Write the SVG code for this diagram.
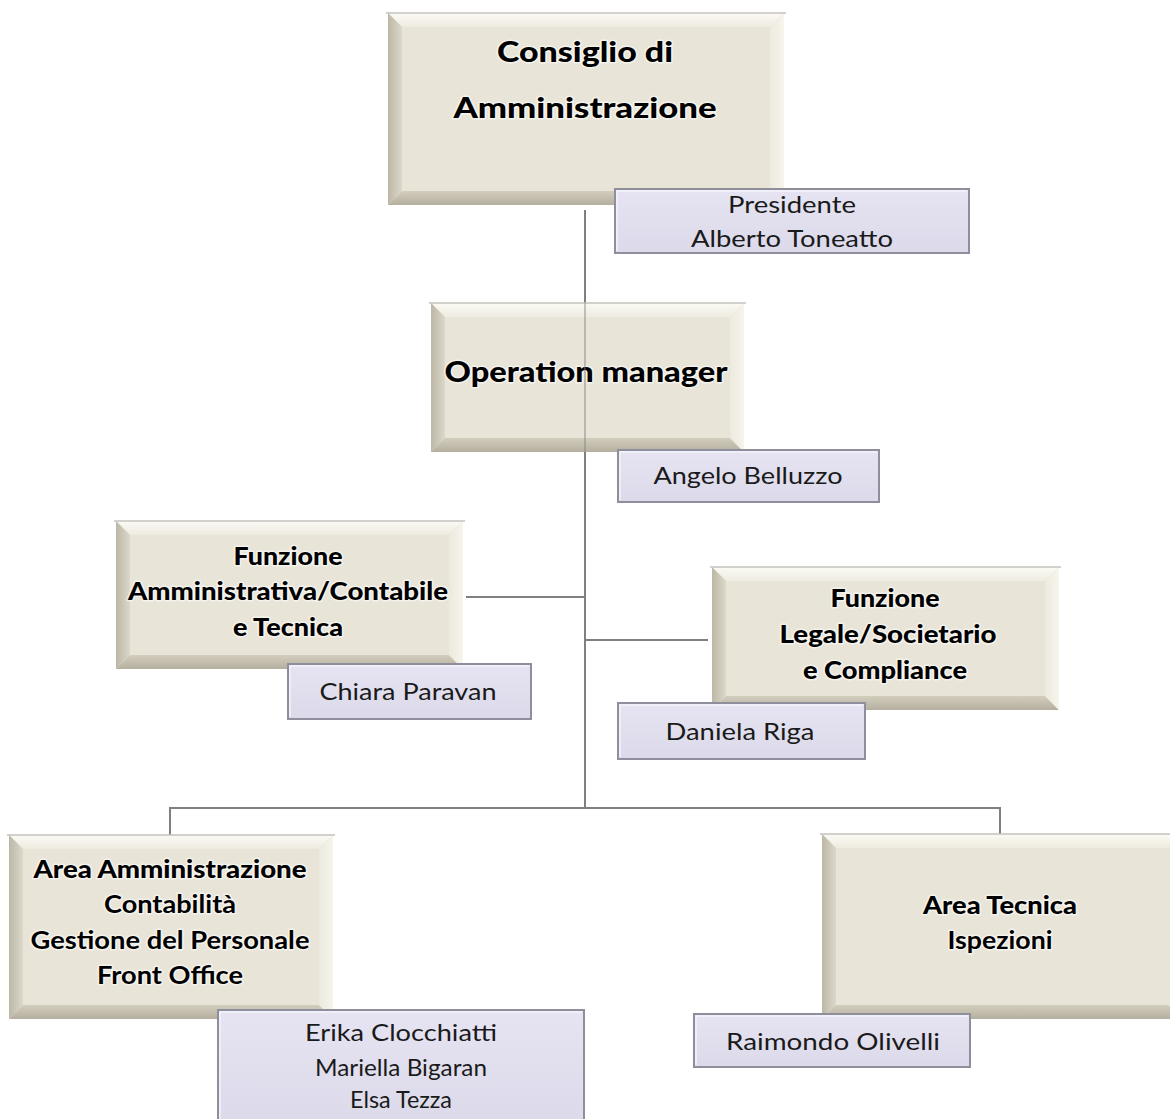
<svg xmlns="http://www.w3.org/2000/svg" width="1170" height="1119" viewBox="0 0 1170 1119">
<defs>
<linearGradient id="gl" x1="0" y1="0" x2="1" y2="0"><stop offset="0" stop-color="#bcb7a6"/><stop offset="1" stop-color="#dcd8ca"/></linearGradient>
<linearGradient id="gb" x1="0" y1="0" x2="0" y2="1"><stop offset="0" stop-color="#d2cdbd"/><stop offset="1" stop-color="#b4af9f"/></linearGradient>
<linearGradient id="gt" x1="0" y1="0" x2="0" y2="1"><stop offset="0" stop-color="#fbfaf4"/><stop offset="1" stop-color="#eeebe0"/></linearGradient>
<linearGradient id="gr" x1="0" y1="0" x2="1" y2="0"><stop offset="0" stop-color="#ece9de"/><stop offset="1" stop-color="#f7f5ec"/></linearGradient>
<linearGradient id="gn" x1="0" y1="0" x2="0" y2="1"><stop offset="0" stop-color="#e6e4f2"/><stop offset="1" stop-color="#dcdaea"/></linearGradient>
</defs>
<style>
.face{fill:#e8e4d7}
.bt{fill:url(#gt)}
.bl{fill:url(#gl)}
.bb{fill:url(#gb)}
.br{fill:url(#gr)}
.edge{fill:none;stroke:#c4c2bc;stroke-width:1.5}
.name{fill:url(#gn);stroke:#8e8e9c;stroke-width:2}
.hl{fill:none;stroke:#f4f3fa;stroke-width:1.5}
.t{font-family:Lato,"Liberation Sans",sans-serif;text-anchor:middle;fill:#000;paint-order:stroke;stroke:#ffffff;stroke-opacity:0.55;stroke-width:3;stroke-linejoin:round}
.tb{font-weight:900}
.n{font-family:Lato,"Liberation Sans",sans-serif;text-anchor:middle;fill:#1a1a1a;font-size:23px}
.c{fill:none;stroke:#808080;stroke-width:2}
</style>

<g id="connectors">
<path class="c" d="M585 210V303M585 452V808M466 597H585M585 640H708M170 835V808H1000V835"/>
</g>

<g id="n-consiglio">
<rect class="face" x="388" y="13" width="396" height="192"/>
<polygon class="bt" points="388,13 784,13 770,27 402,27"/>
<polygon class="bl" points="388,13 402,27 402,191 388,205"/>
<polygon class="bb" points="388,205 402,191 770,191 784,205"/>
<polygon class="br" points="784,13 784,205 770,191 770,27"/>
<line class="edge" x1="386" y1="13" x2="786" y2="13"/>
<text class="t tb" x="585" y="62" font-size="29" textLength="176" lengthAdjust="spacingAndGlyphs">Consiglio di</text>
<text class="t tb" x="585" y="118" font-size="29" textLength="263" lengthAdjust="spacingAndGlyphs">Amministrazione</text>
</g>
<g id="n-presidente">
<rect class="name" x="615" y="189" width="354" height="64"/>
<polyline class="hl" points="617,251 617,191 967,191"/>
<text class="n" x="792" y="213" textLength="128" lengthAdjust="spacingAndGlyphs">Presidente</text>
<text class="n" x="792" y="247" textLength="202" lengthAdjust="spacingAndGlyphs">Alberto Toneatto</text>
</g>

<g id="n-operation">
<rect class="face" x="431" y="303" width="313" height="149"/>
<polygon class="bt" points="431,303 744,303 730,317 445,317"/>
<polygon class="bl" points="431,303 445,317 445,438 431,452"/>
<polygon class="bb" points="431,452 445,438 730,438 744,452"/>
<polygon class="br" points="744,303 744,452 730,438 730,317"/>
<line class="edge" x1="429" y1="303" x2="746" y2="303"/>
<text class="t tb" x="586" y="382" font-size="29" textLength="283" lengthAdjust="spacingAndGlyphs">Operation manager</text>
</g>
<g id="n-angelo">
<rect class="name" x="618" y="450" width="261" height="52"/>
<polyline class="hl" points="620,500 620,452 877,452"/>
<text class="n" x="748" y="484" textLength="189" lengthAdjust="spacingAndGlyphs">Angelo Belluzzo</text>
</g>

<g id="n-funz-amm">
<rect class="face" x="116" y="521" width="347" height="148"/>
<polygon class="bt" points="116,521 463,521 449,535 130,535"/>
<polygon class="bl" points="116,521 130,535 130,655 116,669"/>
<polygon class="bb" points="116,669 130,655 449,655 463,669"/>
<polygon class="br" points="463,521 463,669 449,655 449,535"/>
<line class="edge" x1="114" y1="521" x2="465" y2="521"/>
<text class="t tb" x="288" y="565" font-size="24" textLength="109" lengthAdjust="spacingAndGlyphs">Funzione</text>
<text class="t tb" x="288" y="600" font-size="24" textLength="320" lengthAdjust="spacingAndGlyphs">Amministrativa/Contabile</text>
<text class="t tb" x="288" y="636" font-size="24" textLength="110" lengthAdjust="spacingAndGlyphs">e Tecnica</text>
</g>
<g id="n-chiara">
<rect class="name" x="288" y="664" width="243" height="55"/>
<polyline class="hl" points="290,717 290,666 529,666"/>
<text class="n" x="408" y="700" textLength="177" lengthAdjust="spacingAndGlyphs">Chiara Paravan</text>
</g>

<g id="n-funz-legale">
<rect class="face" x="712" y="567" width="347" height="143"/>
<polygon class="bt" points="712,567 1059,567 1045,581 726,581"/>
<polygon class="bl" points="712,567 726,581 726,696 712,710"/>
<polygon class="bb" points="712,710 726,696 1045,696 1059,710"/>
<polygon class="br" points="1059,567 1059,710 1045,696 1045,581"/>
<line class="edge" x1="710" y1="567" x2="1061" y2="567"/>
<text class="t tb" x="885" y="607" font-size="24" textLength="109" lengthAdjust="spacingAndGlyphs">Funzione</text>
<text class="t tb" x="888" y="643" font-size="24" textLength="217" lengthAdjust="spacingAndGlyphs">Legale/Societario</text>
<text class="t tb" x="885" y="679" font-size="24" textLength="164" lengthAdjust="spacingAndGlyphs">e Compliance</text>
</g>
<g id="n-daniela">
<rect class="name" x="618" y="703" width="247" height="56"/>
<polyline class="hl" points="620,757 620,705 863,705"/>
<text class="n" x="740" y="740" textLength="149" lengthAdjust="spacingAndGlyphs">Daniela Riga</text>
</g>

<g id="n-area-amm">
<rect class="face" x="9" y="835" width="324" height="184"/>
<polygon class="bt" points="9,835 333,835 319,849 23,849"/>
<polygon class="bl" points="9,835 23,849 23,1005 9,1019"/>
<polygon class="bb" points="9,1019 23,1005 319,1005 333,1019"/>
<polygon class="br" points="333,835 333,1019 319,1005 319,849"/>
<line class="edge" x1="7" y1="835" x2="335" y2="835"/>
<text class="t tb" x="170" y="878" font-size="24" textLength="273" lengthAdjust="spacingAndGlyphs">Area Amministrazione</text>
<text class="t" x="170" y="913" font-size="24" font-weight="bold" textLength="132" lengthAdjust="spacingAndGlyphs">Contabilità</text>
<text class="t" x="170" y="949" font-size="24" font-weight="bold" textLength="279" lengthAdjust="spacingAndGlyphs">Gestione del Personale</text>
<text class="t" x="170" y="984" font-size="24" font-weight="bold" textLength="146" lengthAdjust="spacingAndGlyphs">Front Office</text>
</g>
<g id="n-erika">
<rect class="name" x="218" y="1010" width="366" height="115"/>
<polyline class="hl" points="220,1119 220,1012 582,1012"/>
<text class="n" x="401" y="1041" textLength="192" lengthAdjust="spacingAndGlyphs">Erika Clocchiatti</text>
<text class="n" x="401" y="1076" textLength="172" lengthAdjust="spacingAndGlyphs">Mariella Bigaran</text>
<text class="n" x="401" y="1108" textLength="102" lengthAdjust="spacingAndGlyphs">Elsa Tezza</text>
</g>

<g id="n-area-tec">
<rect class="face" x="822" y="834" width="360" height="185"/>
<polygon class="bt" points="822,834 1182,834 1168,848 836,848"/>
<polygon class="bl" points="822,834 836,848 836,1005 822,1019"/>
<polygon class="bb" points="822,1019 836,1005 1168,1005 1182,1019"/>
<line class="edge" x1="820" y1="834" x2="1170" y2="834"/>
<text class="t tb" x="1000" y="914" font-size="24" textLength="154" lengthAdjust="spacingAndGlyphs">Area Tecnica</text>
<text class="t" x="1000" y="949" font-size="24" font-weight="bold" textLength="105" lengthAdjust="spacingAndGlyphs">Ispezioni</text>
</g>
<g id="n-raimondo">
<rect class="name" x="694" y="1014" width="276" height="53"/>
<polyline class="hl" points="696,1065 696,1016 968,1016"/>
<text class="n" x="833" y="1050" textLength="214" lengthAdjust="spacingAndGlyphs">Raimondo Olivelli</text>
</g>

<g id="overlay">
<path d="M585 303V452" stroke="#808080" stroke-width="2" stroke-opacity="0.45" fill="none"/>
</g>
</svg>
